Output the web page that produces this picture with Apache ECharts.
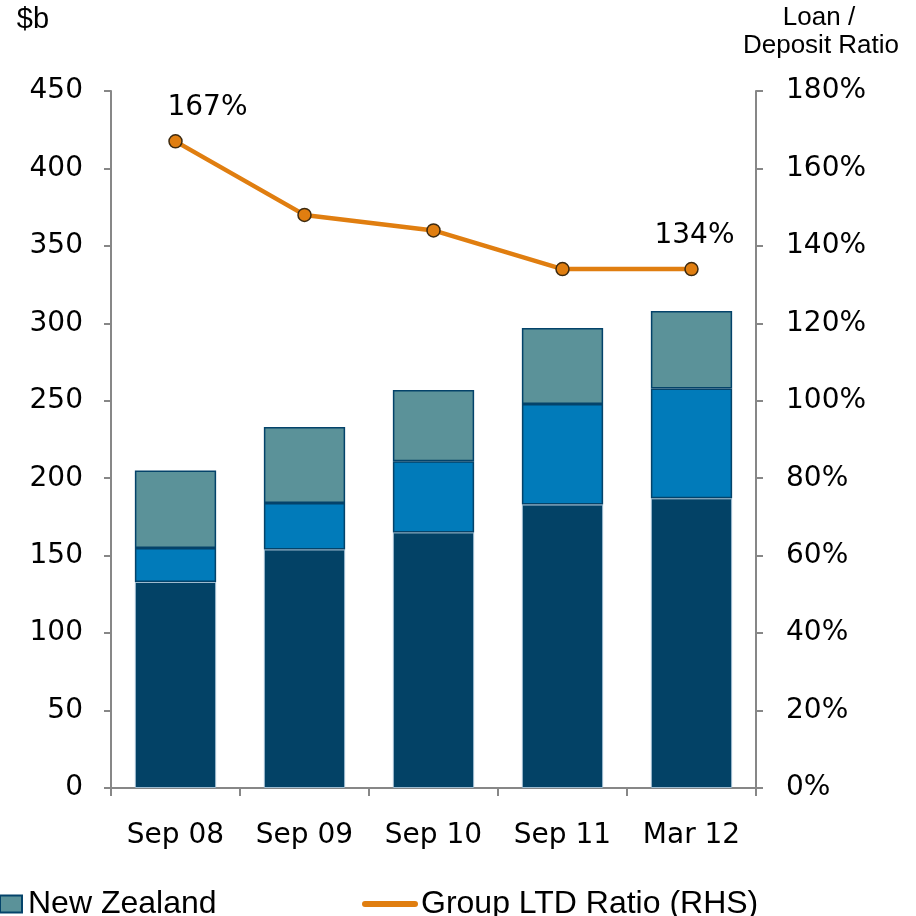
<!DOCTYPE html>
<html>
<head>
<meta charset="utf-8">
<script src="https://cdn.jsdelivr.net/npm/echarts@6/dist/echarts.min.js"></script>
<style>
  html, body { margin: 0; padding: 0; background: #ffffff; }
  #chart { width: 916px; height: 916px; }
</style>
</head>
<body>
<div id="chart"></div>
<script>
// Lending by region ($b, stacked) and group loan / deposit ratio (%)
const periods = ['Sep 08', 'Sep 09', 'Sep 10', 'Sep 11', 'Mar 12'];
const australia = [133, 154, 165, 183, 187];
const other = [22, 30, 46, 65, 71];
const newZealand = [50, 49, 46, 49, 50];
const ltdRatio = [167, 148, 144, 134, 134];
const leftTicks = { min: 0, max: 450, step: 50 };
const rightTicks = { min: 0, max: 180, step: 20 };

const axisGrey = '#878787';
const labelFont = 'DejaVu Sans';
const textFont = 'Liberation Sans';

const chart = echarts.init(document.getElementById('chart'), null, { renderer: 'canvas' });

const barBorder = { borderColor: '#04436A', borderWidth: 1.5 };

const lineData = ltdRatio.map((v, i) => {
  const item = { value: v };
  if (i === 0) {
    item.label = { show: true, offset: [32, 0] };
  } else if (i === ltdRatio.length - 1) {
    item.label = { show: true, offset: [3, 0] };
  }
  return item;
});

const headingStyle = (text, size) => ({
  text: text, font: size + 'px "' + textFont + '"', fill: '#000',
  align: 'center', verticalAlign: 'middle'
});

chart.setOption({
  animation: false,
  backgroundColor: '#ffffff',
  grid: { left: 111, right: 160, top: 91, bottom: 128 },
  graphic: [
    { type: 'text', x: 33, y: 20, style: headingStyle('$b', 29) },
    { type: 'text', x: 819, y: 18, style: headingStyle('Loan /', 26) },
    { type: 'text', x: 821, y: 46, style: headingStyle('Deposit Ratio', 26) }
  ],
  legend: [
    {
      data: ['New Zealand'],
      left: -6, top: 883,
      itemWidth: 22, itemHeight: 17,
      icon: 'rect',
      textStyle: { fontFamily: textFont, fontSize: 32, color: '#000', padding: [0, 0, 0, 1] }
    },
    {
      data: [{ name: 'Group LTD Ratio (RHS)',
               icon: 'path://M3,0 L53,0 A3,3 0 0 1 53,6 L3,6 A3,3 0 0 1 3,0 Z' }],
      left: 357, top: 883,
      itemWidth: 56, itemHeight: 6,
      itemStyle: { color: '#E07E10', borderWidth: 0 },
      textStyle: { fontFamily: textFont, fontSize: 32, color: '#000', padding: [0, 0, 0, -2] }
    }
  ],
  xAxis: {
    type: 'category',
    data: periods,
    axisLine: { lineStyle: { color: axisGrey, width: 2 } },
    axisTick: { show: true, length: 8, lineStyle: { color: axisGrey, width: 2 } },
    axisLabel: { color: '#000', fontFamily: labelFont, fontSize: 28, margin: 34 }
  },
  yAxis: [
    {
      type: 'value',
      min: leftTicks.min, max: leftTicks.max, interval: leftTicks.step,
      splitLine: { show: false },
      axisLine: { show: true, lineStyle: { color: axisGrey, width: 2 } },
      axisTick: { show: true, length: 7, lineStyle: { color: axisGrey, width: 2 } },
      axisLabel: { color: '#000', fontFamily: labelFont, fontSize: 28, margin: 28 }
    },
    {
      type: 'value',
      position: 'right',
      min: rightTicks.min, max: rightTicks.max, interval: rightTicks.step,
      splitLine: { show: false },
      axisLine: { show: true, lineStyle: { color: axisGrey, width: 2 } },
      axisTick: { show: true, length: 7, lineStyle: { color: axisGrey, width: 2 } },
      axisLabel: { color: '#000', fontFamily: labelFont, fontSize: 28, margin: 30,
                   formatter: '{value}%' }
    }
  ],
  series: [
    {
      name: 'Australia', type: 'bar', stack: 'lending', barWidth: '63%',
      data: australia,
      itemStyle: { color: '#034266', borderColor: '#9fbcd0', borderWidth: 1 }
    },
    {
      name: 'Other', type: 'bar', stack: 'lending',
      data: other,
      itemStyle: Object.assign({ color: '#017BBA' }, barBorder)
    },
    {
      name: 'New Zealand', type: 'bar', stack: 'lending',
      data: newZealand,
      itemStyle: Object.assign({ color: '#5B9299' }, barBorder)
    },
    {
      name: 'Group LTD Ratio (RHS)', type: 'line', yAxisIndex: 1,
      data: lineData,
      lineStyle: { color: '#E07E10', width: 4.5 },
      symbol: 'circle', symbolSize: 13,
      itemStyle: { color: '#E07E10', borderColor: '#3d2a10', borderWidth: 1.5 },
      label: {
        show: false, position: 'top', distance: 12,
        formatter: '{c}%', color: '#000', fontFamily: labelFont, fontSize: 28
      },
      z: 5
    }
  ]
});
</script>
</body>
</html>
